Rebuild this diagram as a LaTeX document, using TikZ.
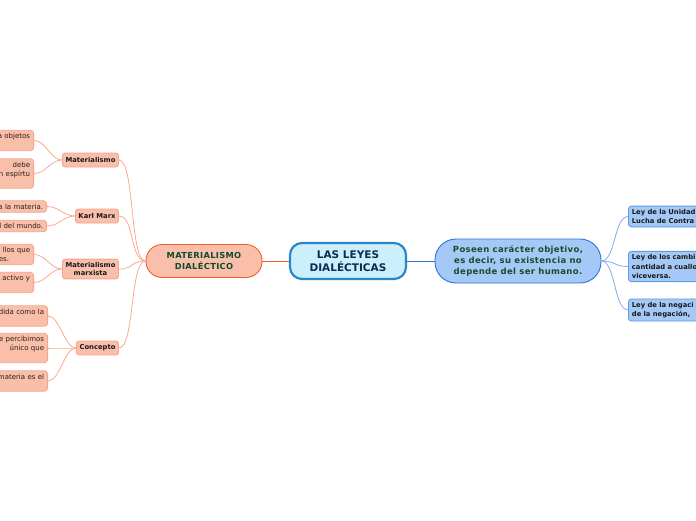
\documentclass[tikz,border=0pt]{standalone}
\usepackage{fontspec}
\setmainfont{DejaVu Sans}
\newfontfamily\spacedfont[LetterSpace=4]{DejaVu Sans}
\usepackage{xcolor}
\usepackage{tikz}

\definecolor{rootfill}{HTML}{CCEFFC}
\definecolor{rootline}{HTML}{2A86C8}
\definecolor{rootink}{HTML}{0E2A52}
\definecolor{salfill}{HTML}{F9BFAB}
\definecolor{salline}{HTML}{F4A58B}
\definecolor{salmain}{HTML}{EF5F2E}
\definecolor{salink}{HTML}{0D4A2E}
\definecolor{salconn}{HTML}{F9A98F}
\definecolor{bluefill}{HTML}{A5C9F7}
\definecolor{bluemain}{HTML}{2E73D2}
\definecolor{blueline}{HTML}{5C9BE6}
\definecolor{blueconn}{HTML}{7EADEA}
\definecolor{greenink}{HTML}{1C4A2A}
\definecolor{leafink}{HTML}{2A1C16}

\tikzset{
  rootbox/.style={draw=rootline, line width=2.2pt, fill=rootfill, rounded corners=12pt,
                  minimum width=116pt, minimum height=36pt, align=center, text=rootink,
                  font=\fontsize{10.5}{12.5}\selectfont\bfseries},
  mainl/.style={draw=salmain, line width=0.9pt, fill=salfill, rounded corners=16pt,
                minimum width=116pt, minimum height=33pt, align=center, text=salink,
                font=\spacedfont\fontsize{8.3}{11}\selectfont\bfseries},
  mainr/.style={draw=bluemain, line width=0.9pt, fill=bluefill, rounded corners=21pt,
                minimum width=166pt, minimum height=44pt, align=center, text=greenink,
                font=\spacedfont\fontsize{8.5}{11}\selectfont\bfseries},
  branch/.style={draw=salline, line width=0.8pt, fill=salfill, rounded corners=2.5pt,
                 minimum height=14pt, inner xsep=3pt, inner ysep=3pt, align=center,
                 text=black!90, font=\fontsize{6.8}{8.5}\selectfont\bfseries},
  leafl/.style={draw=salline, line width=0.8pt, fill=salfill, rounded corners=3pt,
                anchor=east, text width=80pt, inner xsep=3.5pt, inner ysep=3pt,
                align=right, text=leafink, font=\fontsize{7}{9}\selectfont},
  leafr/.style={draw=blueline, line width=0.8pt, fill=bluefill, rounded corners=3pt,
                anchor=west, text width=100pt, inner xsep=3.5pt, inner ysep=3pt,
                align=left, text=black!90, font=\fontsize{6.8}{9.5}\selectfont\bfseries},
  lconn/.style={draw=salconn, line width=0.8pt},
  rconn/.style={draw=blueconn, line width=0.8pt},
}

\begin{document}
\begin{tikzpicture}[x=1pt, y=-1pt]
  \useasboundingbox (0,0) rectangle (696,520);
  \clip (0,0) rectangle (696,520);

  % Central topic and the two main ideas
  \node[rootbox] (root) at (348,261) {LAS LEYES\\DIALÉCTICAS};
  \node[mainl]   (md)   at (204,261) {MATERIALISMO\\DIALÉCTICO};
  \node[mainr]   (rm)   at (518,261) {Poseen carácter objetivo,\\es decir, su existencia no\\depende del ser humano.};

  \draw[draw=salmain, line width=1pt] (root.west) -- (md.east);
  \draw[draw=bluemain, line width=1pt] (root.east) -- (rm.west);

  % Left branches
  \node[branch] (b1) at (90.5,160) {Materialismo};
  \node[branch] (b2) at (97,216)   {Karl Marx};
  \node[branch] (b3) at (90.5,269) {Materialismo\\marxista};
  \node[branch] (b4) at (97.5,348) {Concepto};

  \foreach \b in {b1,b2,b3,b4}
    \draw[lconn] (md.west) .. controls +(-16,0) and +(16,0) .. (\b.east);

  % Leaves (cut by the left edge)
  \node[leafl] (l1) at (34,140.5) {a objetos\\\mbox{}};
  \node[leafl] (l2) at (34,173.5) {debe\hspace*{12pt}\\n espírtu\\\mbox{}};
  \node[leafl] (l3) at (47,206.5) {a la materia.};
  \node[leafl] (l4) at (47,226)   {l del mundo.};
  \node[leafl] (l5) at (34,254.5) {llos que\\res.\hspace*{21pt}};
  \node[leafl] (l6) at (34,282.5) {activo y\\\mbox{}};
  \node[leafl] (l7) at (48,316)   {dida como la\\\mbox{}};
  \node[leafl] (l8) at (48,348)   {e percibimos\\único que\hspace*{8pt}\\\mbox{}};
  \node[leafl] (l9) at (48,381)   {materia es el\\\mbox{}};

  \draw[lconn] (b1.west) .. controls +(-12,0) and +(12,0) .. (l1.east);
  \draw[lconn] (b1.west) .. controls +(-12,0) and +(12,0) .. (l2.east);
  \draw[lconn] (b2.west) .. controls +(-12,0) and +(12,0) .. (l3.east);
  \draw[lconn] (b2.west) .. controls +(-12,0) and +(12,0) .. (l4.east);
  \draw[lconn] (b3.west) .. controls +(-12,0) and +(12,0) .. (l5.east);
  \draw[lconn] (b3.west) .. controls +(-12,0) and +(12,0) .. (l6.east);
  \draw[lconn] (b4.west) .. controls +(-12,0) and +(12,0) .. (l7.east);
  \draw[lconn] (b4.west) .. controls +(-12,0) and +(12,0) .. (l8.east);
  \draw[lconn] (b4.west) .. controls +(-12,0) and +(12,0) .. (l9.east);

  % Right leaves (cut by the right edge)
  \node[leafr] (r1) at (628,216.5) {Ley de la Unidad\\Lucha de Contra};
  \node[leafr] (r2) at (628,266.5) {Ley de los cambi\\cantidad a cuallo\\viceversa.};
  \node[leafr] (r3) at (628,310)   {Ley de la negaci\\de la negación,};

  \foreach \r in {r1,r2,r3}
    \draw[rconn] (rm.east) .. controls +(14,0) and +(-14,0) .. (\r.west);

\end{tikzpicture}
\end{document}
